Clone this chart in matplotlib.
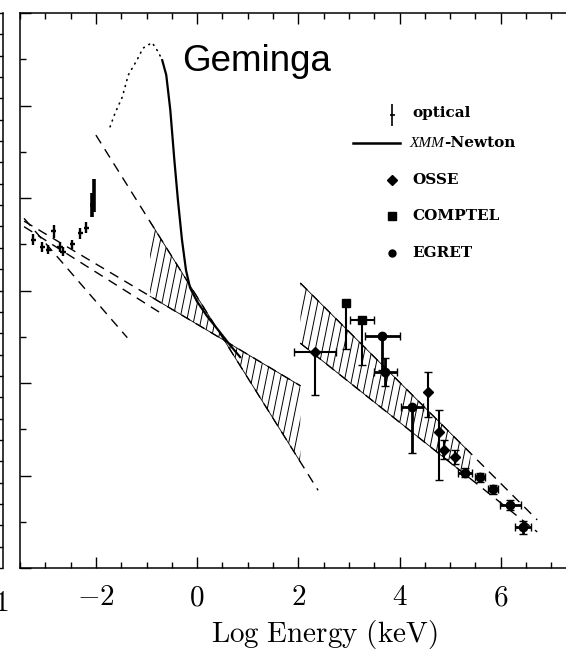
import numpy as np
import matplotlib
matplotlib.use('Agg')
import matplotlib.pyplot as plt
from matplotlib.patches import Polygon
from matplotlib.ticker import MultipleLocator

plt.rcParams['mathtext.fontset'] = 'cm'

# optical points: log E (keV), log flux (arbitrary)
opt_E = [-3.24, -3.06, -2.94, -2.83, -2.71, -2.65, -2.47, -2.31, -2.19, -2.08, -2.04]
opt_F = [3.55, 3.47, 3.44, 3.64, 3.47, 3.42, 3.50, 3.62, 3.68, 3.92, 4.03]
opt_err = [0.06, 0.05, 0.05, 0.07, 0.05, 0.05, 0.05, 0.06, 0.06, 0.13, 0.18]

# XMM-Newton thermal component: measured (solid) and extrapolated (dotted)
xmm_E = [-0.69, -0.61, -0.53, -0.45, -0.38, -0.30, -0.22, -0.14, 0.0, 0.20, 0.42, 0.65, 0.85]
xmm_F = [5.49, 5.33, 4.95, 4.41, 3.98, 3.55, 3.22, 3.03, 2.88, 2.72, 2.57, 2.41, 2.28]
xmm_ext_E = [-1.72, -1.62, -1.48, -1.36, -1.19, -1.07, -0.89, -0.77, -0.69]
xmm_ext_F = [4.77, 4.92, 5.09, 5.33, 5.49, 5.62, 5.68, 5.58, 5.49]

# X-ray power-law bow tie (two bounding lines) and hatched range
xr_steep_E = [-2.0, 2.39]
xr_steep_F = [4.68, 0.84]
xr_flat_E = [-3.42, 2.04]
xr_flat_F = [3.75, 1.97]
xr_hatch_E = [-0.93, 2.04]

# optical power-law lines
op_steep_E = [-3.42, -1.38]
op_steep_F = [3.78, 2.49]
op_flat_E = [-3.42, -0.73]
op_flat_F = [3.69, 2.76]

# gamma-ray power-law band
g_top_E = [2.04, 6.72]
g_top_F = [3.08, 0.52]
g_bot_E = [2.04, 6.72]
g_bot_F = [2.43, 0.39]
g_hatch_E = [2.04, 5.40]

# OSSE (diamonds)
osse_E = [2.33, 4.57, 4.78, 4.88, 5.10]
osse_F = [2.34, 1.90, 1.47, 1.28, 1.20]
osse_xerr = [0.42, 0.0, 0.0, 0.0, 0.0]
osse_lo = [0.47, 0.27, 0.52, 0.10, 0.08]
osse_hi = [0.0, 0.22, 0.24, 0.10, 0.08]

# COMPTEL (squares)
comp_E = [2.94, 3.26]
comp_F = [2.86, 2.68]
comp_xerr = [0.0, 0.23]
comp_lo = [0.49, 0.49]

# EGRET (circles)
egr_E = [3.66, 3.72, 4.25, 5.30, 5.59, 5.85, 6.19, 6.44]
egr_F = [2.51, 2.12, 1.74, 1.03, 0.98, 0.85, 0.68, 0.44]
egr_xerr = [0.35, 0.23, 0.22, 0.14, 0.10, 0.10, 0.20, 0.15]
egr_lo = [0.37, 0.15, 0.50, 0.05, 0.05, 0.05, 0.05, 0.07]
egr_hi = [0.0, 0.15, 0.0, 0.05, 0.05, 0.05, 0.05, 0.07]

dash = (0, (7, 5))


def crossing(l1, l2):
    # E where two straight lines meet
    a1 = (l1[1][1] - l1[1][0]) / (l1[0][1] - l1[0][0])
    a2 = (l2[1][1] - l2[1][0]) / (l2[0][1] - l2[0][0])
    b1 = l1[1][0] - a1 * l1[0][0]
    b2 = l2[1][0] - a2 * l2[0][0]
    return (b2 - b1) / (a1 - a2)


def hatch_between(ax, e_lo, e_hi, top, bot, step=0.14, lean=0.37):
    es = np.linspace(e_lo, e_hi, 40)
    yt = np.interp(es, top[0], top[1])
    yb = np.interp(es, bot[0], bot[1])
    poly = Polygon(np.column_stack([np.r_[es, es[::-1]], np.r_[yt, yb[::-1]]]),
                   closed=True, fill=False, edgecolor='none')
    ax.add_patch(poly)
    y0, y1 = min(yb.min(), yt.min()), max(yb.max(), yt.max())
    for x0 in np.arange(e_lo - lean * (y1 - y0), e_hi + step, step):
        ln, = ax.plot([x0, x0 + lean * (y1 - y0)], [y0, y1], color='k', lw=0.7)
        ln.set_clip_path(poly)
    ax.plot(es, yt, color='k', lw=0.6)
    ax.plot(es, yb, color='k', lw=0.6)


fig = plt.figure(figsize=(5.66, 6.52), dpi=100)

# remnant of the neighbouring panel on the left
axl = fig.add_axes([3 / 566 - 0.5, 84 / 652, 0.5, 555 / 652])
axl.set_ylim(0, 26)
axl.set_xlim(0, 1)
for s in ['left', 'top', 'bottom']:
    axl.spines[s].set_visible(False)
axl.spines['right'].set_linewidth(1.1)
axl.yaxis.set_ticks_position('right')
axl.yaxis.set_major_locator(MultipleLocator(1))
axl.tick_params(axis='y', direction='in', length=4, width=1, labelright=False)
axl.set_xticks([])
fig.text(8 / 566, 1 - 603 / 652, r'$1$', fontsize=21, ha='right', va='center')

ax = fig.add_axes([20 / 566, 84 / 652, 582 / 566, 555 / 652])
ax.set_xlim(-3.5, 8)
ax.set_ylim(0, 6)

# hatched ranges
steep = (xr_steep_E, xr_steep_F)
flat = (xr_flat_E, xr_flat_F)
pivot = crossing(steep, flat)
hatch_between(ax, xr_hatch_E[0], pivot, steep, flat)
hatch_between(ax, pivot, xr_hatch_E[1], flat, steep)
hatch_between(ax, g_hatch_E[0], g_hatch_E[1], (g_top_E, g_top_F), (g_bot_E, g_bot_F))

# dashed extrapolations
for le, lf in [(xr_steep_E, xr_steep_F), (xr_flat_E, xr_flat_F),
               (op_steep_E, op_steep_F), (op_flat_E, op_flat_F),
               (g_top_E, g_top_F), (g_bot_E, g_bot_F)]:
    ax.plot(le, lf, color='k', lw=1.0, ls=dash)

# XMM-Newton
ax.plot(xmm_E, xmm_F, color='k', lw=1.6)
ax.plot(xmm_ext_E, xmm_ext_F, color='k', lw=1.2, ls=(0, (0.5, 3.2)), dash_capstyle='round')

# optical (the last, brightest points drawn heavier as in the scan)
ax.errorbar(opt_E[:-2], opt_F[:-2], yerr=opt_err[:-2], xerr=0.05, fmt='none',
            ecolor='k', elinewidth=1.7)
ax.errorbar(opt_E[-2:], opt_F[-2:], yerr=opt_err[-2:], xerr=0.03, fmt='none',
            ecolor='k', elinewidth=2.6)

# gamma-ray data
ax.errorbar(osse_E, osse_F, yerr=[osse_lo, osse_hi], xerr=osse_xerr, fmt='D', ms=5,
            color='k', elinewidth=1.5, capsize=3)
ax.errorbar(comp_E, comp_F, yerr=[comp_lo, [0, 0]], xerr=comp_xerr, fmt='s', ms=6,
            color='k', elinewidth=1.5, capsize=3)
ax.errorbar(egr_E, egr_F, yerr=[egr_lo, egr_hi], xerr=egr_xerr, fmt='o', ms=6,
            color='k', elinewidth=2.0, capsize=3)

ax.text(-0.3, 5.37, 'Geminga', fontsize=26.5, family='Liberation Sans', va='baseline')

# legend
lx, tx = 3.86, 4.26
leg_font = dict(fontsize=11, family='DejaVu Serif', fontweight='bold', va='center')
ax.errorbar([lx], [4.90], yerr=0.12, xerr=0.05, fmt='none', ecolor='k', elinewidth=1.2)
ax.text(tx, 4.92, 'optical', **leg_font)
ax.plot([3.08, 4.01], [4.59, 4.59], color='k', lw=1.8)
ax.text(4.20, 4.59, 'XMM', fontsize=11, family='Liberation Serif', style='italic', va='center')
ax.text(4.88, 4.59, '-Newton', **leg_font)
ax.plot([lx], [4.19], 'D', color='k', ms=5)
ax.text(tx, 4.19, 'OSSE', **leg_font)
ax.plot([lx], [3.81], 's', color='k', ms=5.5)
ax.text(tx, 3.81, 'COMPTEL', **leg_font)
ax.plot([lx], [3.41], 'o', color='k', ms=5)
ax.text(tx, 3.41, 'EGRET', **leg_font)

# axes styling
for s in ax.spines.values():
    s.set_linewidth(1.1)
ax.spines['right'].set_visible(False)
ax.xaxis.set_major_locator(MultipleLocator(2))
ax.xaxis.set_minor_locator(MultipleLocator(0.5))
ax.yaxis.set_major_locator(MultipleLocator(1))
ax.yaxis.set_minor_locator(MultipleLocator(0.5))
ax.tick_params(which='both', direction='in', top=True, right=False, width=1)
ax.tick_params(which='major', length=8)
ax.tick_params(which='minor', length=4)
ax.tick_params(axis='y', labelleft=False)
ax.set_xticks([-2, 0, 2, 4, 6])
ax.set_xticklabels([r'$-2$', r'$0$', r'$2$', r'$4$', r'$6$'], fontsize=21)
ax.tick_params(axis='x', pad=11)
ax.set_xlabel(r'$\mathrm{Log\ Energy\ (keV)}$', fontsize=21)
ax.xaxis.set_label_coords((324 - 20) / 582, -0.09)

fig.savefig('out.png', dpi=100)
